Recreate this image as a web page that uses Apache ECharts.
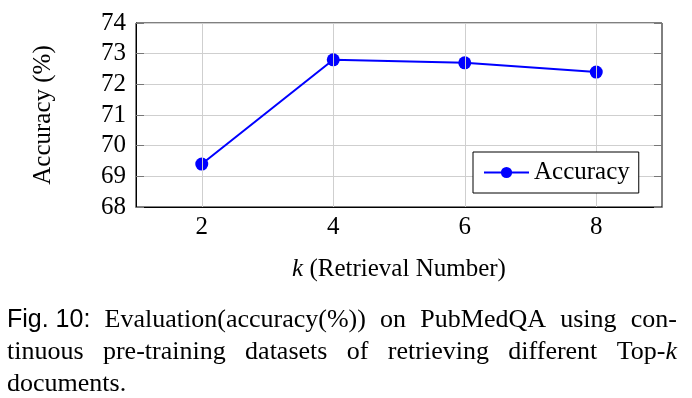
<!DOCTYPE html>
<html>
<head>
<meta charset="utf-8">
<script src="https://cdn.jsdelivr.net/npm/echarts@6/dist/echarts.min.js"></script>
<style>
  html, body { margin: 0; padding: 0; background: #fff; }
  #chart { width: 692px; height: 398px; }
</style>
</head>
<body>
<div id="chart"></div>
<script>
// 数据
const kValues = [2, 4, 6, 8];
const accuracy = [69.4, 72.8, 72.7, 72.4];
const yMin = 68, yMax = 74;

const SERIF = '"Liberation Serif", "Times New Roman", serif';
const SANS = '"Liberation Sans", Arial, sans-serif';

// 图注 (两端对齐)
const captionLines = [
  [[['Fig. 10:', 'sans']], [['Evaluation(accuracy(%))', 'serif']], [['on', 'serif']], [['PubMedQA', 'serif']], [['using', 'serif']], [['con-', 'serif']]],
  [[['tinuous', 'serif']], [['pre-training', 'serif']], [['datasets', 'serif']], [['of', 'serif']], [['retrieving', 'serif']], [['different', 'serif']], [['Top-', 'serif'], ['k', 'italic']]],
  [[['documents.', 'serif']]]
];

var chart = echarts.init(document.getElementById('chart'));

const fonts = {
  serif: '26px ' + SERIF,
  sans: '25px ' + SANS,
  italic: 'italic 26px ' + SERIF
};
const ctx = document.createElement('canvas').getContext('2d');
function measure(text, kind) {
  ctx.font = fonts[kind];
  return ctx.measureText(text).width;
}

const capLeft = 7, capRight = 677;
const baselines = [327, 359, 391];
const descent = 6;
const captionGraphics = [];
captionLines.forEach(function (line, li) {
  const widths = line.map(tok => tok.reduce((s, seg) => s + measure(seg[0], seg[1]), 0));
  const total = widths.reduce((a, b) => a + b, 0);
  const justify = li < captionLines.length - 1;
  const gap = justify ? (capRight - capLeft - total) / (line.length - 1) : measure(' ', 'serif');
  let x = capLeft;
  line.forEach(function (tok, ti) {
    let sx = x;
    tok.forEach(function (seg) {
      captionGraphics.push({
        type: 'text',
        x: sx,
        y: baselines[li] + descent,
        style: {
          text: seg[0],
          font: fonts[seg[1]],
          fill: '#000',
          align: 'left',
          verticalAlign: 'bottom'
        }
      });
      sx += measure(seg[0], seg[1]);
    });
    x += widths[ti] + gap;
  });
});

const tickColor = '#777';

const option = {
  animation: false,
  backgroundColor: '#fff',
  grid: {
    left: 136, top: 23, width: 526, height: 184,
    show: true, borderColor: '#000', borderWidth: 1
  },
  legend: {
    data: ['Accuracy'],
    left: 473, top: 152,
    orient: 'horizontal',
    backgroundColor: '#fff',
    borderColor: '#000',
    borderWidth: 1,
    padding: [8, 9, 8, 10],
    itemWidth: 45,
    itemHeight: 14,
    textStyle: { fontFamily: SERIF, fontSize: 25, color: '#000' },
    z: 10
  },
  xAxis: [
    {
      type: 'value', min: 1, max: 9,
      name: '{i|k} (Retrieval Number)',
      nameLocation: 'middle',
      nameGap: 50,
      nameTextStyle: {
        fontFamily: SERIF, fontSize: 25, color: '#000',
        rich: { i: { fontFamily: SERIF, fontSize: 25, fontStyle: 'italic', color: '#000' } }
      },
      axisLine: { show: true, lineStyle: { color: '#000', width: 1 } },
      axisTick: { show: true, inside: true, length: 8, customValues: kValues, lineStyle: { color: tickColor } },
      axisLabel: { customValues: kValues, margin: 8, fontFamily: SERIF, fontSize: 25, color: '#000' },
      splitLine: { show: false }
    },
    {
      type: 'value', min: 1, max: 9, position: 'top',
      axisLine: { show: false },
      axisTick: { show: true, inside: true, length: 8, customValues: kValues, lineStyle: { color: tickColor } },
      axisLabel: { show: false },
      splitLine: { show: false }
    }
  ],
  yAxis: [
    {
      type: 'value', min: yMin, max: yMax, interval: 1,
      name: 'Accuracy (%)',
      nameLocation: 'middle',
      nameRotate: 90,
      nameGap: 80,
      nameTextStyle: { fontFamily: SERIF, fontSize: 25, color: '#000' },
      axisLine: { show: true, lineStyle: { color: '#000', width: 1 } },
      axisTick: { show: true, inside: true, length: 8, lineStyle: { color: tickColor } },
      axisLabel: { margin: 10, fontFamily: SERIF, fontSize: 25, color: '#000' },
      splitLine: { show: true, lineStyle: { color: '#cfcfcf', width: 1 } }
    },
    {
      type: 'value', min: yMin, max: yMax, interval: 1, position: 'right',
      axisLine: { show: false },
      axisTick: { show: true, inside: true, length: 8, lineStyle: { color: tickColor } },
      axisLabel: { show: false },
      splitLine: { show: false }
    }
  ],
  series: [
    {
      // 竖向网格线
      name: 'grid',
      type: 'line',
      data: [],
      z: 1,
      silent: true,
      markLine: {
        silent: true,
        symbol: 'none',
        label: { show: false },
        lineStyle: { color: '#cfcfcf', type: 'solid', width: 1 },
        emphasis: { disabled: true },
        data: kValues.map(k => ({ xAxis: k }))
      }
    },
    {
      name: 'Accuracy',
      type: 'line',
      z: 3,
      data: kValues.map((k, i) => [k, accuracy[i]]),
      symbol: 'circle',
      symbolSize: 13,
      lineStyle: { color: '#0000ff', width: 2 },
      itemStyle: { color: '#0000ff' }
    }
  ],
  graphic: captionGraphics
};

chart.setOption(option);
window.addEventListener('resize', () => {
  chart.resize();
});
</script>
</body>
</html>
